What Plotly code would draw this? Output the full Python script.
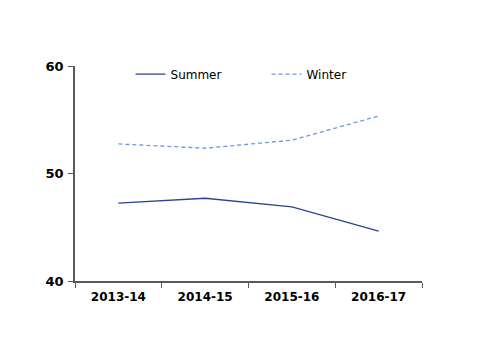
import plotly.graph_objects as go

years = ["2013-14", "2014-15", "2015-16", "2016-17"]
summer = [47.25, 47.7, 46.9, 44.65]
winter = [52.75, 52.35, 53.1, 55.35]
y_ticks = [40, 50, 60]

fig = go.Figure()
fig.add_trace(go.Scatter(x=years, y=summer, mode="lines", name="Summer",
                         line=dict(color="#2B4590", width=1.3)))
fig.add_trace(go.Scatter(x=years, y=winter, mode="lines", name="Winter",
                         line=dict(color="#6A9BDB", width=1.3, dash="4px,3px")))

fig.update_layout(
    width=500, height=354,
    margin=dict(l=75, r=78, t=66, b=73),
    paper_bgcolor="white", plot_bgcolor="white",
    font=dict(family="DejaVu Sans", color="black", size=12),
    legend=dict(orientation="h", x=0.16, y=1.03, xanchor="left", yanchor="top",
                entrywidth=91, entrywidthmode="pixels",
                font=dict(size=12), bgcolor="rgba(0,0,0,0)"),
    xaxis=dict(type="category", range=[-0.5, 3.5], tickson="boundaries",
               ticks="outside", ticklen=5, tickcolor="#595959",
               showline=True, linecolor="#595959", linewidth=1.5,
               showgrid=False, ticklabelstandoff=4,
               tickfont=dict(size=12, family="DejaVu Sans", weight="bold")),
    yaxis=dict(range=[40, 60], tickvals=y_ticks, ticks="outside", ticklen=5,
               tickcolor="#595959", showline=True, linecolor="#595959", linewidth=1.5,
               showgrid=False, zeroline=False, ticklabelstandoff=2,
               tickfont=dict(size=13, family="DejaVu Sans", weight="bold")),
)

fig.write_html("out.html")
